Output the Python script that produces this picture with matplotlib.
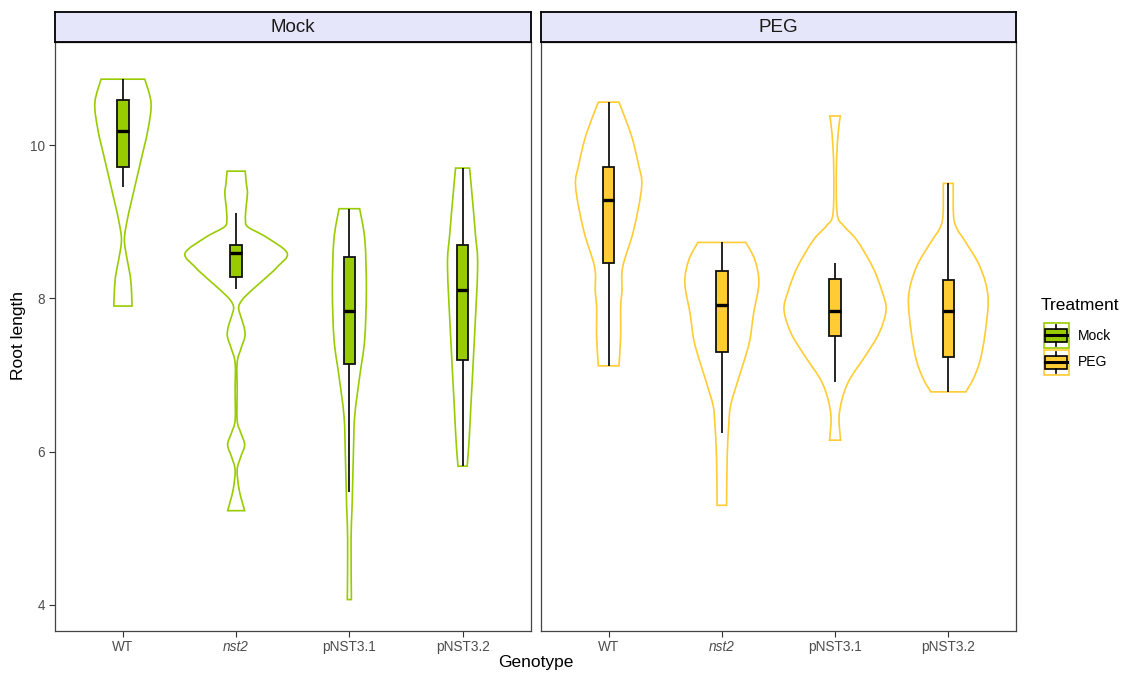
import numpy as np
import matplotlib
matplotlib.use("Agg")
import matplotlib.pyplot as plt
from matplotlib.path import Path
from matplotlib.patches import PathPatch, Rectangle

plt.rcParams['font.family'] = ['Liberation Sans', 'DejaVu Sans']

genotypes = ['WT', 'nst2', 'pNST3.1', 'pNST3.2']
treatments = ['Mock', 'PEG']
colors = {'Mock': '#99CC00', 'PEG': '#FFCC33'}

# violin outlines: y levels (top -> bottom) and half widths
mock_wt_y = [10.86, 10.55, 10.20, 9.80, 9.28, 9.00, 8.76, 8.50, 8.28, 8.05, 7.90]
mock_wt_hw = [0.193, 0.248, 0.221, 0.159, 0.077, 0.035, 0.013, 0.038, 0.066, 0.077, 0.080]
mock_nst2_y = [9.66, 9.50, 9.37, 9.20, 9.02, 8.93, 8.80, 8.59, 8.41, 8.25, 8.10, 7.98, 7.88,
               7.75, 7.62, 7.50, 7.35, 7.16, 6.80, 6.41, 6.25, 6.09, 5.93, 5.76, 5.50, 5.23]
mock_nst2_hw = [0.080, 0.090, 0.100, 0.088, 0.082, 0.106, 0.265, 0.451, 0.363, 0.248, 0.133, 0.053, 0.022,
                0.044, 0.071, 0.077, 0.044, 0.009, 0.009, 0.009, 0.040, 0.075, 0.040, 0.009, 0.027, 0.075]
mock_p31_y = [9.17, 8.76, 8.11, 7.46, 6.98, 6.46, 5.93, 5.28, 4.85, 4.07]
mock_p31_hw = [0.091, 0.137, 0.150, 0.135, 0.091, 0.047, 0.035, 0.024, 0.015, 0.018]
mock_p32_y = [9.70, 9.41, 8.83, 8.41, 7.46, 6.59, 6.37, 6.02, 5.81]
mock_p32_hw = [0.062, 0.080, 0.114, 0.133, 0.104, 0.073, 0.066, 0.052, 0.040]

peg_wt_y = [10.56, 10.30, 10.07, 9.75, 9.46, 8.89, 8.41, 8.10, 7.89, 7.50, 7.12]
peg_wt_hw = [0.091, 0.159, 0.212, 0.263, 0.292, 0.221, 0.124, 0.118, 0.106, 0.106, 0.091]
peg_nst2_y = [8.73, 8.50, 8.20, 7.80, 7.46, 7.20, 6.93, 6.60, 6.37, 5.93, 5.30]
peg_nst2_hw = [0.212, 0.292, 0.327, 0.280, 0.248, 0.200, 0.142, 0.077, 0.062, 0.047, 0.042]
peg_p31_y = [10.38, 10.15, 9.72, 9.11, 8.95, 8.76, 8.41, 8.10, 7.85, 7.55, 7.28, 6.89, 6.50, 6.15]
peg_p31_hw = [0.047, 0.027, 0.012, 0.018, 0.074, 0.192, 0.332, 0.413, 0.451, 0.390, 0.281, 0.111, 0.038, 0.049]
peg_p32_y = [9.50, 9.07, 8.90, 8.76, 8.41, 8.02, 7.54, 7.19, 6.95, 6.78]
peg_p32_hw = [0.044, 0.047, 0.080, 0.142, 0.281, 0.351, 0.325, 0.281, 0.221, 0.155]

violins = {
    'Mock': [(mock_wt_y, mock_wt_hw), (mock_nst2_y, mock_nst2_hw),
             (mock_p31_y, mock_p31_hw), (mock_p32_y, mock_p32_hw)],
    'PEG': [(peg_wt_y, peg_wt_hw), (peg_nst2_y, peg_nst2_hw),
            (peg_p31_y, peg_p31_hw), (peg_p32_y, peg_p32_hw)],
}

# box stats per genotype: lower whisker, q1, median, q3, upper whisker
mock_whislo = [9.45, 8.12, 5.48, 5.81]
mock_q1 = [9.71, 8.28, 7.14, 7.20]
mock_med = [10.18, 8.59, 7.83, 8.11]
mock_q3 = [10.59, 8.69, 8.54, 8.70]
mock_whishi = [10.86, 9.12, 9.17, 9.70]
peg_whislo = [7.12, 6.25, 6.91, 6.78]
peg_q1 = [8.46, 7.30, 7.51, 7.24]
peg_med = [9.28, 7.92, 7.84, 7.83]
peg_q3 = [9.71, 8.36, 8.25, 8.24]
peg_whishi = [10.56, 8.73, 8.46, 9.50]

boxes = {
    'Mock': (mock_whislo, mock_q1, mock_med, mock_q3, mock_whishi),
    'PEG': (peg_whislo, peg_q1, peg_med, peg_q3, peg_whishi),
}


def smooth_side(pts):
    # catmull-rom -> bezier segments through the read points
    verts, codes = [], []
    n = len(pts)
    for i in range(n - 1):
        p0 = pts[max(i - 1, 0)]
        p1 = pts[i]
        p2 = pts[i + 1]
        p3 = pts[min(i + 2, n - 1)]
        c1 = p1 + (p2 - p0) / 6.0
        c2 = p2 - (p3 - p1) / 6.0
        verts += [c1, c2, p2]
        codes += [Path.CURVE4] * 3
    return verts, codes


def draw_violin(ax, c, ys, hws, color):
    ys = np.array(ys)
    hws = np.array(hws)
    right = np.column_stack([c + hws, ys])
    left = np.column_stack([c - hws, ys])[::-1]
    verts = [right[0]]
    codes = [Path.MOVETO]
    v, cd = smooth_side(right)
    verts += v
    codes += cd
    verts.append(left[0])
    codes.append(Path.LINETO)
    v, cd = smooth_side(left)
    verts += v
    codes += cd
    verts.append(right[0])
    codes.append(Path.CLOSEPOLY)
    ax.add_patch(PathPatch(Path(np.array(verts), codes), facecolor='white',
                           edgecolor=color, lw=1.2, zorder=2))


fig = plt.figure(figsize=(11.26, 6.75), dpi=100)
W, H = 1126.0, 675.0
panel_x = [55.0, 540.7]
panel_w = 475.5
top_px, bot_px = 41.7, 630.7

axes = []
for k, tr in enumerate(treatments):
    ax = fig.add_axes([panel_x[k] / W, 1 - bot_px / H, panel_w / W, (bot_px - top_px) / H])
    ax.set_xlim(0.4, 4.6)
    ax.set_ylim(3.664, 11.349)
    for j in range(len(genotypes)):
        c = j + 1
        ys, hws = violins[tr][j]
        draw_violin(ax, c, ys, hws, colors[tr])
        lo, q1, med, q3, hi = [s[j] for s in boxes[tr]]
        ax.plot([c, c], [lo, q1], color='black', lw=1.2, zorder=3, solid_capstyle='butt')
        ax.plot([c, c], [q3, hi], color='black', lw=1.2, zorder=3, solid_capstyle='butt')
        ax.add_patch(Rectangle((c - 0.05, q1), 0.1, q3 - q1, facecolor=colors[tr],
                               edgecolor='#111111', lw=1.3, zorder=4))
        ax.plot([c - 0.05, c + 0.05], [med, med], color='black', lw=2.4, zorder=5,
                solid_capstyle='butt')
    ax.set_xticks(range(1, 5))
    ax.set_xticklabels(genotypes)
    ax.get_xticklabels()[1].set_fontstyle('italic')
    ax.tick_params(axis='both', labelsize=9.8, colors='#333333', labelcolor='#4D4D4D',
                   length=4, width=0.8, pad=3)
    if k == 0:
        ax.set_yticks([4, 6, 8, 10])
    else:
        ax.set_yticks([])
    for sp in ax.spines.values():
        sp.set_color('#444444')
        sp.set_linewidth(0.9)
    # facet strip
    sax = fig.add_axes([panel_x[k] / W, 1 - top_px / H, panel_w / W, 30.0 / H])
    sax.set_xticks([])
    sax.set_yticks([])
    sax.set_facecolor('#E6E6FA')
    for sp in sax.spines.values():
        sp.set_color('black')
        sp.set_linewidth(1.3)
    sax.text(0.5, 0.48, tr, ha='center', va='center', fontsize=13.5, color='#1A1A1A',
             transform=sax.transAxes)
    axes.append(ax)

fig.text(536 / W, 1 - 663 / H, 'Genotype', ha='center', va='center', fontsize=12.5)
fig.text(19 / W, 1 - 336 / H, 'Root length', ha='center', va='center', fontsize=12.5,
         rotation=90)

# legend drawn in pixel coordinates
lax = fig.add_axes([0, 0, 1, 1], zorder=-1)
lax.set_xlim(0, W)
lax.set_ylim(H, 0)
lax.axis('off')
lax.text(1041, 305, 'Treatment', fontsize=12.5, va='center', ha='left')
for i, tr in enumerate(treatments):
    y0 = 322.5 + i * 27
    lax.add_patch(Rectangle((1043.5, y0), 25, 25, facecolor='white',
                            edgecolor=colors[tr], lw=1.2))
    cx = 1056
    lax.plot([cx, cx], [y0 + 2, y0 + 6], color='black', lw=1.2)
    lax.plot([cx, cx], [y0 + 19, y0 + 23], color='black', lw=1.2)
    lax.add_patch(Rectangle((1045, y0 + 6), 22, 13, facecolor=colors[tr],
                            edgecolor='black', lw=1.2))
    lax.plot([1045, 1067], [y0 + 12.5, y0 + 12.5], color='black', lw=2.2)
    lax.text(1078, y0 + 13, tr, fontsize=10, va='center', ha='left')

fig.savefig('out.png', dpi=100)
